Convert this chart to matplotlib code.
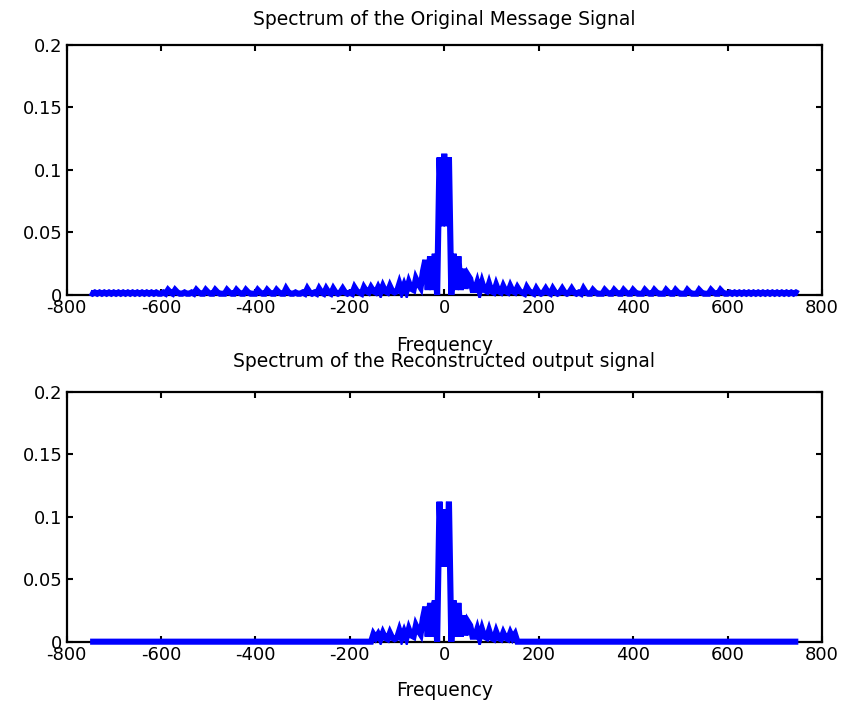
import numpy as np
import matplotlib
matplotlib.use("Agg")
import matplotlib.pyplot as plt
import matplotlib.patches as mpatches

plt.rcParams['font.family'] = ['DejaVu Sans']

# frequency grid (Hz), 5 Hz spacing from -750 to 750
freq = np.arange(-750, 755, 5)

# |M(f)| of original message, negative frequencies (-750 .. -5)
mag_neg = [
    0.002, 0.001, 0.002, 0.001, 0.002, 0.001, 0.002, 0.001, 0.002, 0.001,
    0.002, 0.001, 0.002, 0.001, 0.002, 0.001, 0.002, 0.001, 0.002, 0.001,
    0.002, 0.001, 0.002, 0.001, 0.002, 0.001, 0.002, 0.001, 0.002, 0.001,
    0.001, 0.002, 0.001, 0.004, 0.002, 0.001, 0.004, 0.002, 0.001, 0.001,
    0.002, 0.001, 0.001, 0.002, 0.001, 0.004, 0.002, 0.001, 0.001, 0.004,
    0.002, 0.001, 0.001, 0.004, 0.002, 0.001, 0.001, 0.001, 0.004, 0.002,
    0.001, 0.001, 0.004, 0.002, 0.001, 0.001, 0.004, 0.002, 0.001, 0.001,
    0.001, 0.004, 0.002, 0.001, 0.001, 0.004, 0.002, 0.001, 0.001, 0.004,
    0.002, 0.001, 0.001, 0.005, 0.002, 0.001, 0.001, 0.002, 0.001, 0.001,
    0.002, 0.001, 0.005, 0.002, 0.001, 0.002, 0.001, 0.005, 0.002, 0.001,
    0.005, 0.002, 0.001, 0.005, 0.002, 0.001, 0.002, 0.005, 0.002, 0.001,
    0.002, 0.001, 0.006, 0.003, 0.002, 0.001, 0.006, 0.003, 0.002, 0.006,
    0.003, 0.002, 0.006, 0.002, 0.007, 0.003, 0.002, 0.007, 0.003, 0.002,
    0.003, 0.009, 0.003, 0.008, 0.003, 0.010, 0.005, 0.004, 0.013, 0.009,
    0.006, 0.019, 0.028, 0.004, 0.031, 0.004, 0.033, 0.000, 0.110, 0.055,
]
# value at f = 0
mag_dc = [0.113]
# positive frequencies (5 .. 750)
mag_pos = [
    0.055, 0.110, 0.000, 0.033, 0.004, 0.031, 0.004, 0.021, 0.005, 0.016,
    0.013, 0.004, 0.004, 0.010, 0.003, 0.010, 0.004, 0.003, 0.009, 0.003,
    0.002, 0.008, 0.003, 0.002, 0.007, 0.003, 0.002, 0.007, 0.003, 0.002,
    0.006, 0.003, 0.002, 0.001, 0.006, 0.003, 0.002, 0.001, 0.005, 0.002,
    0.001, 0.002, 0.005, 0.002, 0.001, 0.005, 0.002, 0.001, 0.002, 0.005,
    0.002, 0.001, 0.002, 0.005, 0.002, 0.001, 0.002, 0.001, 0.005, 0.002,
    0.001, 0.001, 0.004, 0.002, 0.001, 0.001, 0.001, 0.004, 0.002, 0.001,
    0.001, 0.004, 0.002, 0.001, 0.001, 0.004, 0.002, 0.001, 0.001, 0.004,
    0.002, 0.001, 0.001, 0.001, 0.004, 0.002, 0.001, 0.001, 0.004, 0.002,
    0.001, 0.001, 0.001, 0.004, 0.002, 0.001, 0.001, 0.004, 0.002, 0.001,
    0.001, 0.001, 0.004, 0.002, 0.001, 0.001, 0.001, 0.004, 0.002, 0.001,
    0.001, 0.001, 0.004, 0.002, 0.001, 0.001, 0.004, 0.002, 0.001, 0.001,
    0.002, 0.001, 0.002, 0.001, 0.002, 0.001, 0.002, 0.001, 0.002, 0.001,
    0.002, 0.001, 0.002, 0.001, 0.002, 0.001, 0.002, 0.001, 0.002, 0.001,
    0.002, 0.001, 0.002, 0.001, 0.002, 0.001, 0.002, 0.001, 0.002, 0.001,
]
mag_orig = np.array(mag_neg + mag_dc + mag_pos)

# reconstructed output: passband -150 .. 150 Hz, zero elsewhere
rec_band = [
    0.006, 0.003, 0.006, 0.002, 0.007, 0.003, 0.002, 0.007, 0.003, 0.002,
    0.003, 0.009, 0.003, 0.008, 0.003, 0.010, 0.005, 0.004, 0.013, 0.009,
    0.006, 0.019, 0.028, 0.004, 0.031, 0.004, 0.033, 0.000, 0.112, 0.060,
    0.106,
    0.060, 0.112, 0.000, 0.033, 0.004, 0.031, 0.004, 0.021, 0.005, 0.016,
    0.013, 0.004, 0.004, 0.010, 0.003, 0.010, 0.004, 0.003, 0.009, 0.003,
    0.002, 0.008, 0.003, 0.002, 0.007, 0.003, 0.002, 0.007, 0.003, 0.006,
]
rec_stop = [0.0] * 120
mag_rec = np.array(rec_stop + rec_band + rec_stop)

titles = ["Spectrum of the Original Message Signal",
          "Spectrum of the Reconstructed output signal"]
xlabel = "Frequency"
xticks = [-800, -600, -400, -200, 0, 200, 400, 600, 800]
yticks = [0, 0.05, 0.1, 0.15, 0.2]
yticklabels = ["0", "0.05", "0.1", "0.15", "0.2"]

fig = plt.figure(figsize=(8.45, 7.06), dpi=100)
ax1 = fig.add_axes([0.0787, 0.5822, 0.894, 0.3541])
ax2 = fig.add_axes([0.0787, 0.0911, 0.894, 0.3541])

layout = [(ax1, mag_orig, titles[0], 1.100, -0.204),
          (ax2, mag_rec, titles[1], 1.119, -0.197)]

for ax, mag, title, ty, ly in layout:
    ax.set_xlim(-800, 800)
    ax.set_ylim(0, 0.2)
    line, = ax.plot(freq, mag, color='#0000ff', linewidth=4.4,
                    solid_joinstyle='miter', solid_capstyle='butt', zorder=3)
    # let the thick line spill slightly below the x axis, as in the original
    clip = mpatches.Rectangle((-820, -0.0025), 1640, 0.21,
                              transform=ax.transData)
    line.set_clip_path(clip)
    ax.set_xticks(xticks)
    ax.set_xticklabels([str(t) for t in xticks])
    ax.set_yticks(yticks)
    ax.set_yticklabels(yticklabels)
    ax.tick_params(direction='in', length=4, width=1.5, top=True, right=True,
                   labelsize=13, colors='black')
    ax.tick_params(axis='x', pad=3)
    ax.tick_params(axis='y', pad=3)
    for s in ax.spines.values():
        s.set_linewidth(1.6)
    ax.text(0.5, ty, title, transform=ax.transAxes, ha='center', va='center',
            fontsize=13.5)
    ax.set_xlabel(xlabel, fontsize=13.5)
    ax.xaxis.set_label_coords(0.5, ly)
    ax.xaxis.label.set_va('center')

fig.savefig("out.png", dpi=100, facecolor='white')
